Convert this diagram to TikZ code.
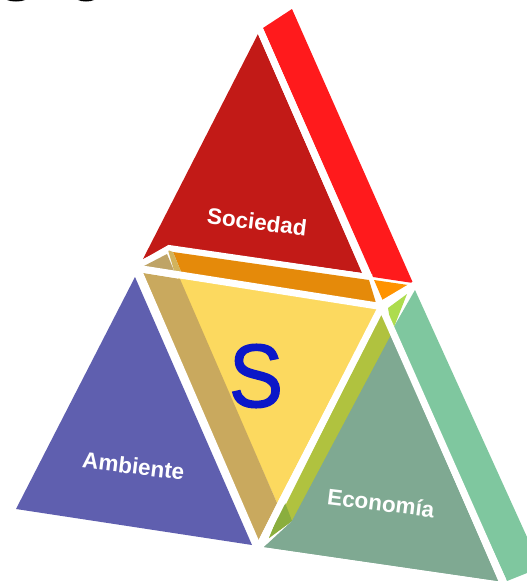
\documentclass[tikz,border=0pt]{standalone}
\usepackage{fontspec}
\setmainfont{Liberation Sans}
\definecolor{soc}{HTML}{C21A17}
\definecolor{socside}{HTML}{FF1A1C}
\definecolor{orangeband}{HTML}{E58A0A}
\definecolor{orangetip}{HTML}{FF9300}
\definecolor{tanband}{HTML}{C9A95E}
\definecolor{tandark}{HTML}{BFA466}
\definecolor{tanlight}{HTML}{D2B35C}
\definecolor{yel}{HTML}{FCD95F}
\definecolor{amb}{HTML}{5F5FAF}
\definecolor{eco}{HTML}{7FA992}
\definecolor{ecoside}{HTML}{7FC79F}
\definecolor{olive}{HTML}{B0C23F}
\definecolor{olivedark}{HTML}{8AAE3E}
\definecolor{limeg}{HTML}{ADDC4E}
\definecolor{sblue}{HTML}{0B17C8}
\tikzset{
  lab/.style={text=white,font=\bfseries\fontsize{22.5}{24}\selectfont,inner sep=0pt,rotate=-7},
  wline/.style={draw=white,line width=7pt,line cap=butt}
}
\begin{document}
\begin{tikzpicture}[x=1pt,y=-1pt]
\useasboundingbox (0,0) rectangle (527,581);
\fill[white] (0,0) rectangle (527,581);
% top-edge fragments
\fill[black] (7,0) .. controls (11,2) and (21,2) .. (25,0) -- cycle;
\fill[black] (78,0) .. controls (82,2) and (90,2) .. (94,0) -- cycle;
% Sociedad
\fill[socside] (263,28) -- (292,9) -- (413,283) -- (373,277) -- cycle;
\fill[soc] (258,34) -- (362,273) -- (170,246) -- (143,259) -- cycle;
\draw[wline] (260,30) -- (370,281);
% band
\fill[orangeband] (173,252) -- (369,280) -- (376,303) -- (182,274) -- cycle;
\fill[orangetip] (374,280) -- (408,285) -- (383,301) -- cycle;
\fill[tanlight] (168,250) -- (173,252) -- (182,274) -- (175,274) -- cycle;
\fill[tandark] (142,267) -- (167,254) -- (175,273) -- cycle;
\draw[draw=white,line width=5pt,line join=miter] (140,264) -- (169,247.5) -- (372,277);
% yellow
\fill[yel] (178,278) -- (378,308) -- (277,503) -- cycle;
\fill[tanband] (143,273) -- (180,279) -- (277,503) -- (258,541) -- cycle;
\draw[wline] (139,268.5) -- (384,307);
% Ambiente
\fill[amb] (135,277) -- (252,545) -- (16,509) -- cycle;
\draw[wline] (139,272) -- (257,545);
% Economia side
\fill[ecoside] (415,290) -- (527,537) -- (527,573) -- (507,581) -- (392,330) -- cycle;
\fill[limeg] (388,308) -- (407,294) -- (392,332) -- cycle;
% Economia
\fill[eco] (383,316) -- (498,581) -- (264,547) -- (290,525) -- cycle;
\fill[olive] (381,314) -- (391,335) -- (292,521) -- (269,538) -- cycle;
\fill[olivedark] (284,500) -- (292,521) -- (269,538) -- cycle;
\fill[eco] (391,335) -- (498,581) -- (264,547) -- (292,521) -- cycle;
\draw[wline] (383,310) -- (503,581);
\draw[wline] (381,308) -- (259,547);
\draw[white,line width=5pt] (382,303) -- (414,284);
% labels
\node[lab] (sociedad) at (257,222) {Sociedad};
\node[lab] (ambiente) at (133.5,466) {Ambiente};
\node[lab] (economia) at (381,503) {Economía};
\node[text=sblue,inner sep=0pt,xscale=.9,font=\fontsize{90}{90}\selectfont\addfontfeature{FakeBold=1.5}] (s) at (256,376) {S};
\end{tikzpicture}
\end{document}
